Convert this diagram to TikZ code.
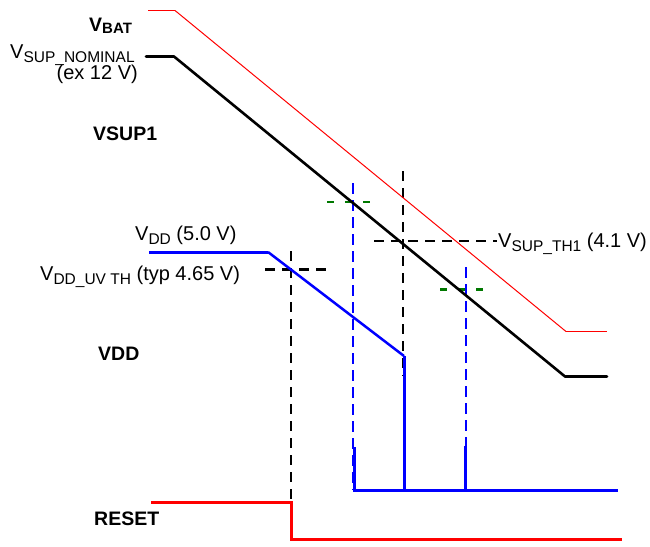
\documentclass[tikz,border=0pt]{standalone}
\usepackage{fontspec}
\setmainfont{Liberation Sans}
\newcommand{\subs}[1]{\raisebox{-4pt}{\fontsize{15.5}{17}\selectfont #1}}
\newcommand{\bsubs}[1]{\raisebox{-2.8pt}{\fontsize{15}{17}\selectfont #1}}
\begin{document}
\begin{tikzpicture}[x=1pt,y=-1pt,
  lab/.style={inner sep=0pt, font=\fontsize{20}{24}\selectfont},
  blab/.style={inner sep=0pt, font=\fontsize{19.5}{24}\selectfont\bfseries},
  redthin/.style={draw=red, line width=1pt},
  redthick/.style={draw=red, line width=1.8pt},
  resetline/.style={draw=red, line width=3pt},
  vsupline/.style={draw=black, line width=2.6pt},
  vddline/.style={draw=blue, line width=3pt},
  bdash/.style={draw=black, line width=2.4pt, dash pattern=on 10pt off 7pt},
  bludash/.style={draw=blue, line width=2.4pt, dash pattern=on 11pt off 6pt},
  grdash/.style={draw={rgb,255:red,0;green,120;blue,0}, line width=2.2pt, dash pattern=on 7pt off 11pt}
]
\useasboundingbox (0,0) rectangle (650,546);

% labels
\node[blab, anchor=base west] (vbat) at (89,31) {V\bsubs{BAT}};
\node[lab, anchor=base west] (vnom) at (10,58) {V\subs{SUP\_NOMINAL}};
\node[lab, anchor=base east] (ex12) at (138,79) {(ex 12 V)};
\node[blab, anchor=base west] (vsup1) at (93,140.5) {VSUP1};
\node[lab, anchor=base west] (vdd5) at (135,240) {V\subs{DD} (5.0 V)};
\node[lab, anchor=base west] (vdduv) at (40,280) {V\subs{DD\_UV TH} (typ 4.65 V)};
\node[lab, anchor=base west] (vth1) at (498,247) {V\subs{SUP\_TH1} (4.1 V)};
\node[blab, anchor=base west] (vddl) at (98,360) {VDD};
\node[blab, anchor=base west] (rst) at (94,525) {RESET};

% coordinates
\coordinate (b0) at (148,10.5);
\coordinate (b1) at (175,10.5);
\coordinate (b2) at (566,331.5);
\coordinate (b3) at (607,331.5);
\coordinate (s0) at (146,56.5);
\coordinate (s1) at (174,56.5);
\coordinate (s2) at (565,376.5);
\coordinate (s3) at (607,376.5);
\coordinate (d0) at (149,252);
\coordinate (d1) at (268,252);
\coordinate (d2) at (404,356);
\coordinate (d3) at (404,490);

% dashed guides
\draw[bdash] (403,171) -- (403,376);
\draw[bdash] (291,251) -- (291,520);
\draw[bdash] (374,241) -- (497,241);
\draw[bdash] (265,269.5) -- (330,269.5);
\draw[bludash] (353,183) -- (353,490);
\draw[bludash] (466,267) -- (466,446);
\draw[grdash] (327,202) -- (377,202);
\draw[grdash] (440,289.5) -- (490,289.5);

% VBAT
\draw[redthick] (b0) -- (b1);
\draw[redthin] (b1) -- (b2);
\draw[redthick] (b2) -- (b3);

% VSUP
\draw[vsupline, line cap=round, line join=round] (s0) -- (s1) -- (s2) -- (s3);

% VDD
\draw[vddline] (d0) -- (d1);
\draw[draw=blue, line width=2.5pt] (d1) -- (d2);
\draw[vddline] (d2) -- (d3);
\draw[vddline] (354.5,447) -- (354.5,490) -- (618,490);
\draw[vddline] (465,446) -- (465,490);

% RESET
\draw[resetline] (151,502) -- (291,502) -- (291,539) -- (622,539);
\end{tikzpicture}
\end{document}
